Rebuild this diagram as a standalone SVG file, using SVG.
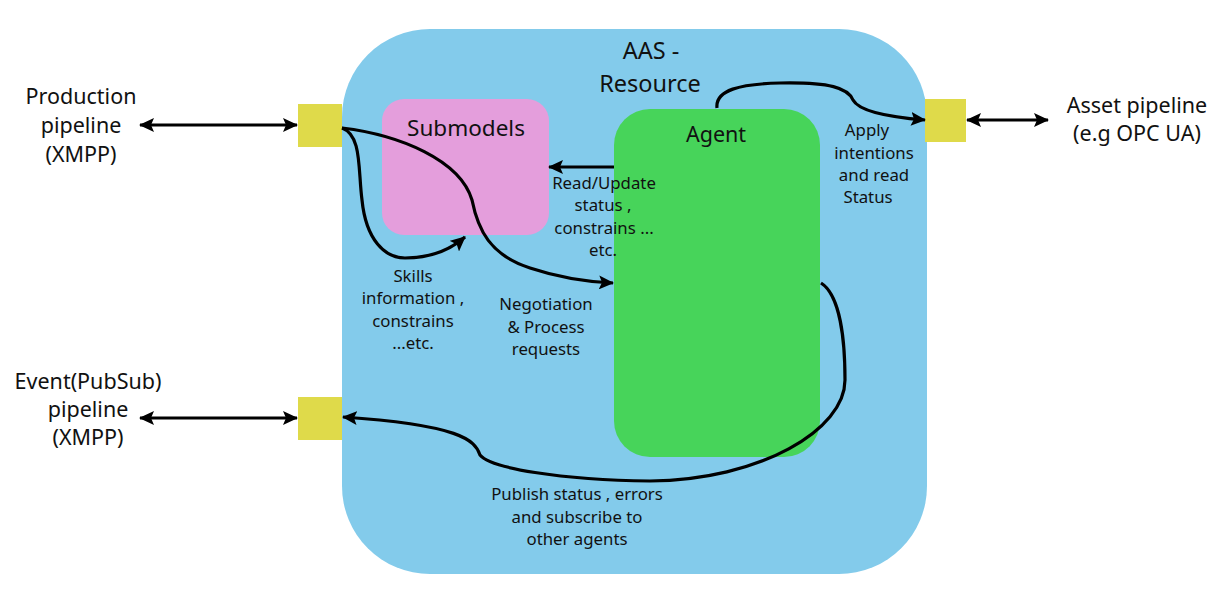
<svg xmlns="http://www.w3.org/2000/svg" width="1225" height="602" viewBox="0 0 1225 602">
<style>
text{font-family:"Noto Sans","Open Sans",sans-serif;fill:#111;text-anchor:middle}
.big{font-size:23.5px}
.mid{font-size:21.5px}
.sm{font-size:16.8px}
.c{fill:none;stroke:#000;stroke-width:3.2}
</style>
<defs>
<marker id="ah" markerUnits="userSpaceOnUse" markerWidth="16" markerHeight="14" refX="14" refY="7" orient="auto-start-reverse">
<path d="M0,0 L15,7 L0,14 L3,7 Z" fill="#000"/>
</marker>
</defs>
<rect width="1225" height="602" fill="#fff"/>
<g id="aas">
<rect x="342" y="29" width="585" height="545" rx="88" fill="#83CBEB"/>
<text class="big" x="651" y="59">AAS -</text>
<text class="big" x="650" y="92">Resource</text>
</g>
<g id="submodels">
<rect x="382" y="99" width="167" height="136" rx="22" fill="#E49EDC"/>
<text class="mid" x="466" y="136" style="font-size:22.5px">Submodels</text>
</g>
<g id="agent">
<rect x="614" y="109" width="206" height="348" rx="36" fill="#47D45A"/>
<text class="mid" x="716" y="142">Agent</text>
</g>
<g id="port-production"><rect x="298" y="104" width="44" height="43" fill="#DFDA4A"/></g>
<g id="port-event"><rect x="298" y="397" width="44" height="43" fill="#DFDA4A"/></g>
<g id="port-asset"><rect x="925" y="99" width="41" height="43" fill="#DFDA4A"/></g>
<g id="label-production">
<text class="mid" x="81" y="104">Production</text>
<text class="mid" x="81" y="133">pipeline</text>
<text class="mid" x="81" y="162">(XMPP)</text>
</g>
<g id="label-event">
<text class="mid" x="88" y="389">Event(PubSub)</text>
<text class="mid" x="88" y="417">pipeline</text>
<text class="mid" x="88" y="445">(XMPP)</text>
</g>
<g id="label-asset">
<text class="mid" x="1137" y="113">Asset pipeline</text>
<text class="mid" x="1137" y="141">(e.g OPC UA)</text>
</g>
<g id="connectors">
<line class="c" x1="140" y1="125" x2="297" y2="125" marker-start="url(#ah)" marker-end="url(#ah)"/>
<line class="c" x1="140" y1="418" x2="297" y2="418" marker-start="url(#ah)" marker-end="url(#ah)"/>
<line class="c" x1="967" y1="120" x2="1048" y2="120" marker-start="url(#ah)" marker-end="url(#ah)"/>
<line class="c" x1="614" y1="167" x2="549" y2="167" marker-end="url(#ah)"/>
<path class="c" d="M342,128 C362,135 358,170 362,200 C366,240 385,258 405,258 C430,258 450,250 465,237" marker-end="url(#ah)"/>
<path class="c" d="M342,128 C400,135 460,160 472,200 C478,230 490,255 530,268 C560,278 590,282 613,283" marker-end="url(#ah)"/>
<path class="c" d="M717,108 C715,90 740,84 780,83 C830,82 848,88 853,100 C860,113 900,118 925,120" marker-end="url(#ah)"/>
<path class="c" d="M821,283 C840,295 845,340 845,380 C845,430 760,480 650,481 C560,480 490,468 480,455 C475,440 460,425 343,417" marker-end="url(#ah)"/>
</g>
<g id="label-readupdate">
<text class="sm" x="604" y="189">Read/Update</text>
<text class="sm" x="603" y="211">status ,</text>
<text class="sm" x="604" y="234">constrains ...</text>
<text class="sm" x="603" y="256">etc.</text>
</g>
<g id="label-apply">
<text class="sm" x="867" y="136">Apply</text>
<text class="sm" x="874" y="159">intentions</text>
<text class="sm" x="874" y="181">and read</text>
<text class="sm" x="868" y="203">Status</text>
</g>
<g id="label-skills">
<text class="sm" x="413" y="282">Skills</text>
<text class="sm" x="413" y="304">information ,</text>
<text class="sm" x="413" y="327">constrains</text>
<text class="sm" x="413" y="349">...etc.</text>
</g>
<g id="label-negotiation">
<text class="sm" x="546" y="310">Negotiation</text>
<text class="sm" x="546" y="333">&amp; Process</text>
<text class="sm" x="546" y="355">requests</text>
</g>
<g id="label-publish">
<text class="sm" x="577" y="500">Publish status , errors</text>
<text class="sm" x="577" y="523">and subscribe to</text>
<text class="sm" x="577" y="545">other agents</text>
</g>
</svg>
